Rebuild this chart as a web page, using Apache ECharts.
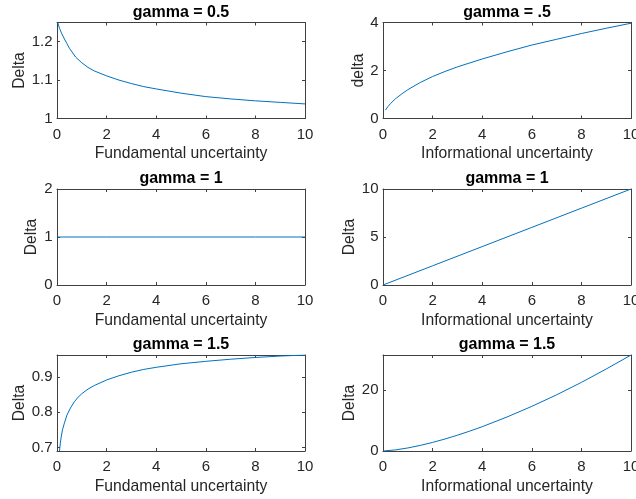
<!DOCTYPE html>
<html>
<head>
<meta charset="utf-8">
<script src="https://cdn.jsdelivr.net/npm/echarts@6/dist/echarts.min.js"></script>
<style>
html,body{margin:0;padding:0;background:#fff;}
#chart{width:636px;height:499px;}
</style>
</head>
<body>
<div id="chart"></div>
<script>
// ---- data ----
const titles = ['gamma = 0.5', 'gamma = .5', 'gamma = 1', 'gamma = 1', 'gamma = 1.5', 'gamma = 1.5'];
const xNames = ['Fundamental uncertainty', 'Informational uncertainty'];
const yNames = ['Delta', 'delta', 'Delta', 'Delta', 'Delta', 'Delta'];

const fundX1 = [0.03, 0.1, 0.2, 0.3, 0.4, 0.5, 0.75, 1, 1.25, 1.5, 2, 2.5, 3, 3.5, 4, 5, 6, 7, 8, 9, 10];
const fundY1 = [1.25, 1.235, 1.22, 1.207, 1.195, 1.183, 1.16, 1.145, 1.133, 1.124, 1.111, 1.1, 1.091, 1.083, 1.077, 1.066, 1.057, 1.051, 1.046, 1.042, 1.038];

const infoX2 = [0.1, 0.2, 0.3, 0.5, 0.75, 1, 1.5, 2, 2.5, 3, 4, 5, 6, 7, 8, 9, 10];
const infoY2 = [0.35, 0.5, 0.62, 0.82, 1.02, 1.2, 1.5, 1.75, 1.96, 2.15, 2.48, 2.78, 3.06, 3.3, 3.54, 3.76, 3.97];

const fundX3 = [0, 2, 4, 6, 8, 10];
const fundY3 = [1, 1, 1, 1, 1, 1];

const infoX4 = [0, 2, 4, 6, 8, 10];
const infoY4 = [0, 2, 4, 6, 8, 10];

const fundX5 = [0.1, 0.13, 0.17, 0.22, 0.3, 0.4, 0.54, 0.7, 0.85, 1, 1.25, 1.5, 2, 2.5, 3, 3.5, 4, 5, 6, 7, 8, 9, 10];
const fundY5 = [0.69, 0.71, 0.73, 0.75, 0.77, 0.792, 0.812, 0.83, 0.843, 0.853, 0.866, 0.876, 0.892, 0.904, 0.914, 0.922, 0.928, 0.938, 0.945, 0.951, 0.956, 0.96, 0.963];

const infoX6 = [0, 0.5, 1, 1.5, 2, 2.5, 3, 3.5, 4, 5, 6, 7, 8, 9, 10];
const infoY6 = [0, 0.35, 1, 1.84, 2.83, 3.95, 5.2, 6.55, 8, 11.2, 14.7, 18.5, 22.6, 27, 31.6];

const xTicks = [0, 10, 2];               // min, max, interval
const yRanges = [                        // min, max, interval (null = auto nice)
  [1, 1.25, 0.1],
  [0, 4, 2],
  [0, 2, 1],
  [0, 10, 5],
  [0.69, 0.963, null],
  [0, 31.62, 20]
];

// ---- layout ----
const colLeft = [57, 383];
const rowTop = [22.5, 189, 355];
const gw = 248, gh = 96;
const yNameGap = [29, 16.5, 17.5, 25, 29, 25];
const FONT = '"Liberation Sans", Arial, Helvetica, sans-serif';
const TXT = '#262626';
const AX = '#404040';
const LINE = '#0072BD';

const seriesXY = [[fundX1, fundY1], [infoX2, infoY2], [fundX3, fundY3], [infoX4, infoY4], [fundX5, fundY5], [infoX6, infoY6]];

const grid = [], xAxis = [], yAxis = [], series = [], title = [];
for (let i = 0; i < 6; i++) {
  const c = i % 2, r = Math.floor(i / 2);
  grid.push({left: colLeft[c], top: rowTop[r], width: gw, height: gh, containLabel: false, outerBoundsMode: 'none'});
  title.push({
    text: titles[i], left: colLeft[c] + gw / 2, top: rowTop[r] - 18, textAlign: 'center', padding: 0,
    textStyle: {fontFamily: FONT, fontSize: 16, fontWeight: 'bold', color: '#000'}
  });
  const lineStyle = {color: AX, width: 1};
  const tick = {show: true, inside: true, length: 3, lineStyle: {color: AX, width: 1}};
  xAxis.push({
    type: 'value', gridIndex: i, position: 'bottom', min: xTicks[0], max: xTicks[1], interval: xTicks[2],
    name: xNames[c], nameLocation: 'middle', nameGap: 27.5,
    nameTextStyle: {fontFamily: FONT, fontSize: 15.7, color: TXT},
    axisLine: {show: true, onZero: false, lineStyle}, axisTick: tick, splitLine: {show: false},
    axisLabel: {fontFamily: FONT, fontSize: 15, color: TXT, margin: 8.5}
  });
  xAxis.push({
    type: 'value', gridIndex: i, position: 'top', min: xTicks[0], max: xTicks[1], interval: xTicks[2],
    axisLine: {show: true, onZero: false, lineStyle}, axisTick: tick, splitLine: {show: false},
    axisLabel: {show: false}
  });
  const yr = yRanges[i];
  const yBase = {type: 'value', gridIndex: i, min: yr[0], max: yr[1]};
  if (yr[2] !== null) yBase.interval = yr[2]; else yBase.splitNumber = 3;
  const maxIsTick = yr[2] !== null && Math.abs(yr[1] / yr[2] - Math.round(yr[1] / yr[2])) < 1e-9;
  yAxis.push(Object.assign({}, yBase, {
    position: 'left', name: yNames[i], nameLocation: 'middle', nameGap: yNameGap[i],
    nameTextStyle: {fontFamily: FONT, fontSize: 15.7, color: TXT},
    axisLine: {show: true, onZero: false, lineStyle}, axisTick: tick, splitLine: {show: false},
    axisLabel: {fontFamily: FONT, fontSize: 15, color: TXT, margin: 4.5, showMaxLabel: maxIsTick, showMinLabel: yr[2] !== null}
  }));
  yAxis.push(Object.assign({}, yBase, {
    position: 'right',
    axisLine: {show: true, onZero: false, lineStyle}, axisTick: tick, splitLine: {show: false},
    axisLabel: {show: false}
  }));
  const xs = seriesXY[i][0], ys = seriesXY[i][1];
  series.push({
    type: 'line', xAxisIndex: 2 * i, yAxisIndex: 2 * i,
    data: xs.map((x, k) => [x, ys[k]]),
    showSymbol: false, smooth: false,
    lineStyle: {color: LINE, width: 1}, animation: false, clip: true
  });
}

const chart = echarts.init(document.getElementById('chart'), null, {renderer: 'canvas'});
chart.setOption({backgroundColor: '#fff', animation: false, title, grid, xAxis, yAxis, series});
</script>
</body>
</html>
